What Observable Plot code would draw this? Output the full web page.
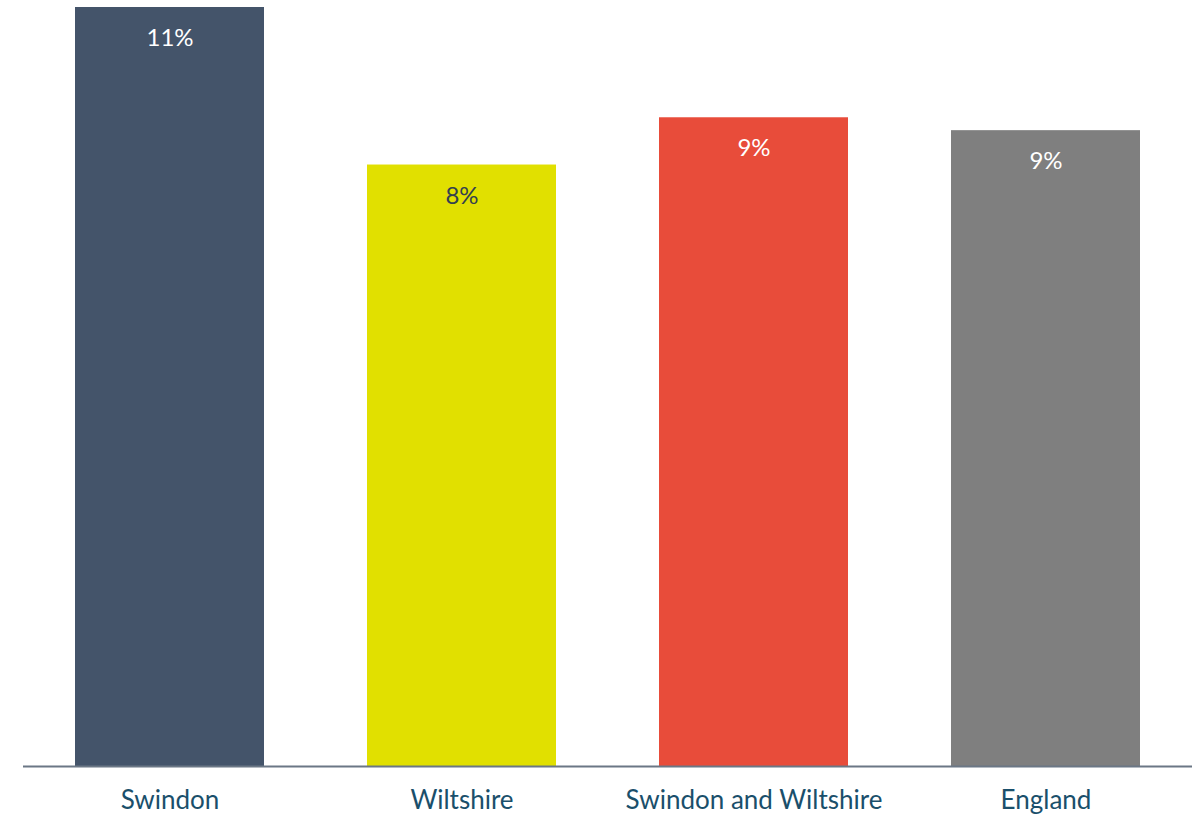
<!DOCTYPE html>
<html>
<head>
<meta charset="utf-8">
<script src="https://cdn.jsdelivr.net/npm/d3@7"></script>
<script src="https://cdn.jsdelivr.net/npm/@observablehq/plot@0.6"></script>
<style>
  html, body { margin: 0; padding: 0; background: #fff; }
  #chart svg { display: block; }
</style>
</head>
<body>
<div id="chart"></div>
<script>
const categories = ["Swindon", "Wiltshire", "Swindon and Wiltshire", "England"];
const values = [10.6, 8.4, 9.06, 8.88];
const labels = ["11%", "8%", "9%", "9%"];
const barColors = ["#44546a", "#e1e000", "#e84c3a", "#7f7f7f"];
const labelColors = ["#ffffff", "#333f4f", "#ffffff", "#ffffff"];

const data = categories.map((c, i) => ({
  category: c, value: values[i], label: labels[i],
  color: barColors[i], textColor: labelColors[i]
}));

const chart = Plot.plot({
  width: 1199,
  height: 815,
  marginTop: 7,
  marginBottom: 49,
  marginLeft: 23,
  marginRight: 7,
  style: { fontFamily: "Lato, 'Open Sans', sans-serif", background: "#fff" },
  x: { domain: categories, paddingInner: 0.353, paddingOuter: 0.1765, label: null },
  y: { domain: [0, 10.6], axis: null },
  marks: [
    Plot.barY(data, { x: "category", y: "value", fill: "color" }),
    Plot.ruleY([0], { stroke: "#6b7785", strokeWidth: 2 }),
    Plot.text(data, {
      x: "category", y: "value", text: "label", fill: "textColor",
      dy: 31, fontSize: 24, lineAnchor: "middle"
    }),
    Plot.axisX({ tickSize: 0, tickPadding: 24, fontSize: 26, color: "#1a4f6b", label: null })
  ]
});
document.getElementById("chart").appendChild(chart);
</script>
</body>
</html>
